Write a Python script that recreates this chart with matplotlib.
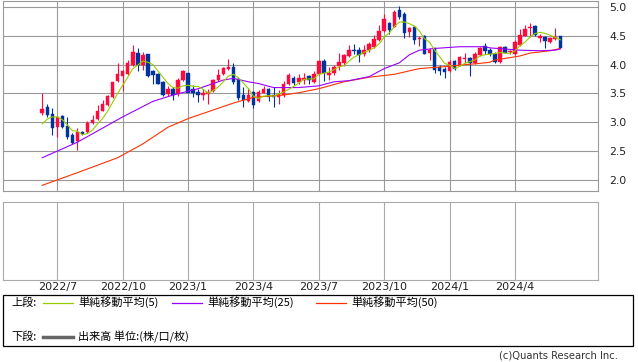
import matplotlib
matplotlib.use("Agg")
import matplotlib.pyplot as plt
from matplotlib.lines import Line2D
from matplotlib.patches import Rectangle
import numpy as np
import pandas as pd

plt.rcParams['font.family'] = ['Noto Sans CJK JP', 'DejaVu Sans']

# ---- data (weekly candles) ----
start_week = "2022-06-13"
opens = [3.15, 3.27, 3.14, 2.91, 3.10, 2.93, 2.78, 2.67, 2.83, 2.83,
         2.98, 3.05, 3.20, 3.29, 3.44, 3.71, 3.80, 3.83, 3.99, 4.20,
         3.99, 4.18, 3.89, 3.84, 3.70, 3.48, 3.58, 3.48, 3.74, 3.86,
         3.57, 3.52, 3.47, 3.48, 3.54, 3.73, 3.83, 3.92, 3.96, 3.75,
         3.47, 3.37, 3.52, 3.37, 3.51, 3.58, 3.47, 3.44, 3.47, 3.66,
         3.76, 3.70, 3.73, 3.80, 3.70, 3.83, 4.07, 3.82, 3.85, 3.97,
         4.02, 4.15, 4.26, 4.25, 4.19, 4.25, 4.30, 4.43, 4.59, 4.72,
         4.66, 4.95, 4.88, 4.57, 4.66, 4.44, 4.49, 4.20, 4.28, 3.96,
         3.93, 3.89, 4.06, 3.99, 4.09, 4.12, 4.03, 4.16, 4.32, 4.25,
         4.19, 4.05, 4.30, 4.21, 4.18, 4.34, 4.50, 4.63, 4.67, 4.47,
         4.48, 4.40, 4.44, 4.49]
highs = [3.50, 3.31, 3.25, 3.09, 3.12, 3.09, 2.81, 2.89, 2.84, 3.01,
         3.13, 3.29, 3.38, 3.47, 3.70, 4.03, 3.90, 4.08, 4.34, 4.28,
         4.22, 4.19, 3.90, 3.85, 3.72, 3.62, 3.61, 3.76, 3.90, 3.86,
         3.64, 3.58, 3.58, 3.58, 3.75, 3.93, 3.96, 4.09, 4.03, 3.77,
         3.61, 3.59, 3.54, 3.55, 3.62, 3.60, 3.61, 3.55, 3.72, 3.86,
         3.80, 3.83, 3.85, 3.81, 3.89, 4.08, 4.09, 3.96, 3.99, 4.20,
         4.19, 4.34, 4.35, 4.31, 4.34, 4.39, 4.52, 4.69, 4.88, 4.74,
         4.94, 5.02, 4.92, 4.66, 4.67, 4.49, 4.51, 4.28, 4.29, 3.99,
         3.95, 4.08, 4.08, 4.14, 4.20, 4.13, 4.22, 4.31, 4.37, 4.28,
         4.21, 4.32, 4.33, 4.26, 4.42, 4.62, 4.69, 4.73, 4.68, 4.53,
         4.50, 4.48, 4.63, 4.49]
lows = [3.12, 3.09, 2.77, 2.74, 2.89, 2.71, 2.62, 2.51, 2.78, 2.81,
        2.97, 3.03, 3.19, 3.28, 3.42, 3.70, 3.54, 3.81, 3.98, 3.89,
        3.90, 3.79, 3.67, 3.66, 3.45, 3.46, 3.39, 3.46, 3.72, 3.52,
        3.44, 3.35, 3.38, 3.31, 3.52, 3.71, 3.82, 3.90, 3.67, 3.39,
        3.27, 3.35, 3.24, 3.35, 3.50, 3.37, 3.27, 3.32, 3.44, 3.64,
        3.64, 3.67, 3.66, 3.67, 3.68, 3.81, 3.72, 3.73, 3.82, 3.90,
        3.97, 4.13, 4.18, 4.05, 4.15, 4.22, 4.28, 4.41, 4.57, 4.53,
        4.65, 4.79, 4.47, 4.48, 4.35, 4.33, 4.18, 4.08, 3.86, 3.81,
        3.77, 3.87, 3.90, 3.97, 4.03, 3.80, 4.01, 4.14, 4.19, 4.15,
        4.03, 4.03, 4.20, 4.18, 4.17, 4.33, 4.49, 4.48, 4.50, 4.40,
        4.29, 4.38, 4.43, 4.28]
closes = [3.22, 3.12, 2.89, 3.08, 2.91, 2.74, 2.64, 2.82, 2.80, 2.99,
          3.03, 3.19, 3.31, 3.45, 3.70, 3.83, 3.89, 4.03, 4.22, 3.99,
          4.16, 3.80, 3.82, 3.67, 3.47, 3.58, 3.47, 3.74, 3.89, 3.50,
          3.50, 3.47, 3.50, 3.52, 3.74, 3.82, 3.94, 3.96, 3.70, 3.41,
          3.38, 3.47, 3.29, 3.52, 3.57, 3.44, 3.44, 3.48, 3.67, 3.82,
          3.68, 3.76, 3.77, 3.73, 3.83, 4.06, 3.86, 3.86, 3.96, 4.05,
          4.16, 4.25, 4.23, 4.16, 4.25, 4.35, 4.44, 4.58, 4.79, 4.60,
          4.91, 4.83, 4.55, 4.64, 4.43, 4.46, 4.19, 4.25, 3.90, 3.89,
          3.87, 4.05, 3.93, 4.13, 4.12, 4.02, 4.18, 4.28, 4.24, 4.18,
          4.05, 4.31, 4.20, 4.23, 4.40, 4.51, 4.61, 4.66, 4.51, 4.49,
          4.41, 4.47, 4.48, 4.29]

# 5-week simple moving average, read per candle
ma5 = [2.97, 3.05, 3.09, 3.09, 3.04, 2.95, 2.85, 2.84, 2.78, 2.80,
       2.86, 2.97, 3.06, 3.19, 3.34, 3.50, 3.64, 3.78, 3.93, 3.99,
       4.06, 4.04, 4.00, 3.89, 3.78, 3.67, 3.60, 3.59, 3.63, 3.64,
       3.62, 3.62, 3.57, 3.50, 3.55, 3.61, 3.70, 3.80, 3.83, 3.77,
       3.68, 3.58, 3.45, 3.41, 3.45, 3.46, 3.45, 3.49, 3.52, 3.57,
       3.62, 3.68, 3.74, 3.75, 3.75, 3.83, 3.85, 3.87, 3.91, 3.96,
       3.98, 4.06, 4.13, 4.17, 4.21, 4.25, 4.29, 4.36, 4.48, 4.55,
       4.66, 4.74, 4.74, 4.71, 4.67, 4.58, 4.45, 4.39, 4.25, 4.14,
       4.02, 3.99, 3.93, 3.97, 4.02, 4.05, 4.08, 4.15, 4.17, 4.18,
       4.19, 4.21, 4.20, 4.19, 4.24, 4.33, 4.39, 4.48, 4.54, 4.56,
       4.54, 4.51, 4.47, 4.43]

# 25-week and 50-week moving averages, read at candle numbers (1-based)
ma25_at = [1, 8, 17, 23, 27, 32, 37, 39, 42, 44, 47, 52, 56, 59, 62, 66,
           69, 72, 74, 76, 79, 84, 89, 90, 93, 96, 100, 103, 104]
ma25_val = [2.38, 2.65, 3.09, 3.36, 3.47, 3.58, 3.73, 3.76, 3.70, 3.67,
            3.60, 3.60, 3.63, 3.70, 3.72, 3.79, 3.93, 4.03, 4.17, 4.25,
            4.28, 4.31, 4.31, 4.29, 4.27, 4.25, 4.24, 4.25, 4.27]
ma50_at = [1, 8, 16, 21, 26, 30, 35, 39, 43, 49, 52, 56, 61, 66, 71, 76,
           79, 82, 84, 88, 90, 91, 94, 96, 98, 102, 104]
ma50_val = [1.90, 2.12, 2.38, 2.62, 2.91, 3.06, 3.21, 3.33, 3.43, 3.47,
            3.51, 3.58, 3.70, 3.78, 3.83, 3.93, 3.95, 3.97, 3.99, 4.02,
            4.04, 4.08, 4.12, 4.15, 4.20, 4.24, 4.28]

y_ticks = [2.0, 2.5, 3.0, 3.5, 4.0, 4.5, 5.0]

# ---- colours ----
UP = '#ff0a3c'
DOWN = '#00349a'
C5 = '#99cc00'
C25 = '#9900ff'
C50 = '#ff3300'
GRID = '#999999'

W, H = 638, 362
fig = plt.figure(figsize=(W / 100, H / 100), dpi=100)


def fx(px):
    return px / W


def fy(py):
    return 1 - py / H


ax = fig.add_axes([fx(3), fy(190.5), fx(595), (190.5 - 1) / H])
axv = fig.add_axes([fx(3), fy(280), fx(595), (280 - 201.5) / H])

n = len(closes)
x = np.arange(n)
dates = pd.date_range(start_week, periods=n, freq="7D")

# quarter ticks
tick_idx, tick_lab = [], []
for i, d in enumerate(dates):
    if d.month in (1, 4, 7, 10) and i > 0 and dates[i - 1].month != d.month:
        tick_idx.append(i)
        tick_lab.append(f"{d.year}/{d.month}")

o = np.array(opens); c = np.array(closes)
hi = np.array(highs); lo = np.array(lows)
up = c >= o
cols = np.where(up, UP, DOWN)

# grid
for t in y_ticks:
    ax.axhline(t, color=GRID, lw=0.8, zorder=0)
for t in tick_idx:
    ax.axvline(t, color=GRID, lw=0.8, zorder=0)
    axv.axvline(t, color='#aaaaaa', lw=0.8, zorder=0)

# candles
ax.vlines(x, lo, hi, colors=cols, lw=0.8, zorder=2)
bottoms = np.minimum(o, c)
heights = np.maximum(np.abs(c - o), 0.012)
ax.bar(x, heights, bottom=bottoms, width=0.7, color=cols, edgecolor=cols,
       linewidth=0.3, zorder=3)

# moving averages
ax.plot(np.array(ma50_at) - 1, ma50_val, color=C50, lw=0.8, zorder=4)
ax.plot(np.array(ma25_at) - 1, ma25_val, color=C25, lw=0.8, zorder=4)
ax.plot(x, ma5, color=C5, lw=0.8, zorder=5)

xl = (-7.8, 110.5)
ax.set_xlim(*xl)
ax.set_ylim(1.81, 5.105)
ax.set_xticks([])
ax.set_yticks(y_ticks)
ax.yaxis.tick_right()
ax.set_yticklabels([f"{t:.1f}" for t in y_ticks], fontsize=7.8,
                   family='DejaVu Sans', color='#222222')
ax.tick_params(axis='y', length=0, pad=8)
for s in ax.spines.values():
    s.set_color(GRID)
    s.set_linewidth(0.8)

axv.set_xlim(*xl)
axv.set_ylim(0, 1)
axv.set_yticks([])
axv.set_xticks(tick_idx)
axv.set_xticklabels(tick_lab, fontsize=8, family='DejaVu Sans', color='#222222')
axv.tick_params(axis='x', length=0, pad=1.5)
for s in axv.spines.values():
    s.set_color('#aaaaaa')
    s.set_linewidth(0.8)

# legend box
fig.patches.append(Rectangle((fx(3), fy(346)), fx(630), (346 - 295) / H,
                             transform=fig.transFigure, fill=False,
                             edgecolor='black', lw=0.9))
fs = 8
r1 = fy(302.5)
r2 = fy(337)
fig.text(fx(11), r1, "上段:", fontsize=fs, va='center')
fig.add_artist(Line2D([fx(43), fx(73)], [r1, r1], color=C5, lw=0.9))
fig.text(fx(78), r1, "単純移動平均(5)", fontsize=fs, va='center')
fig.add_artist(Line2D([fx(172), fx(202)], [r1, r1], color=C25, lw=0.9))
fig.text(fx(207), r1, "単純移動平均(25)", fontsize=fs, va='center')
fig.add_artist(Line2D([fx(316), fx(346)], [r1, r1], color=C50, lw=0.9))
fig.text(fx(351), r1, "単純移動平均(50)", fontsize=fs, va='center')
fig.text(fx(11), r2, "下段:", fontsize=fs, va='center')
fig.add_artist(Line2D([fx(43), fx(73)], [r2, r2], color='#666666', lw=2.5))
fig.text(fx(78), r2, "出来高 単位:(株/口/枚)", fontsize=fs, va='center')

fig.text(fx(618), fy(356), "(c)Quants Research Inc.", fontsize=7.2, ha='right',
         va='center', color='#333333', family='DejaVu Sans')

fig.savefig("out.png", dpi=100)
